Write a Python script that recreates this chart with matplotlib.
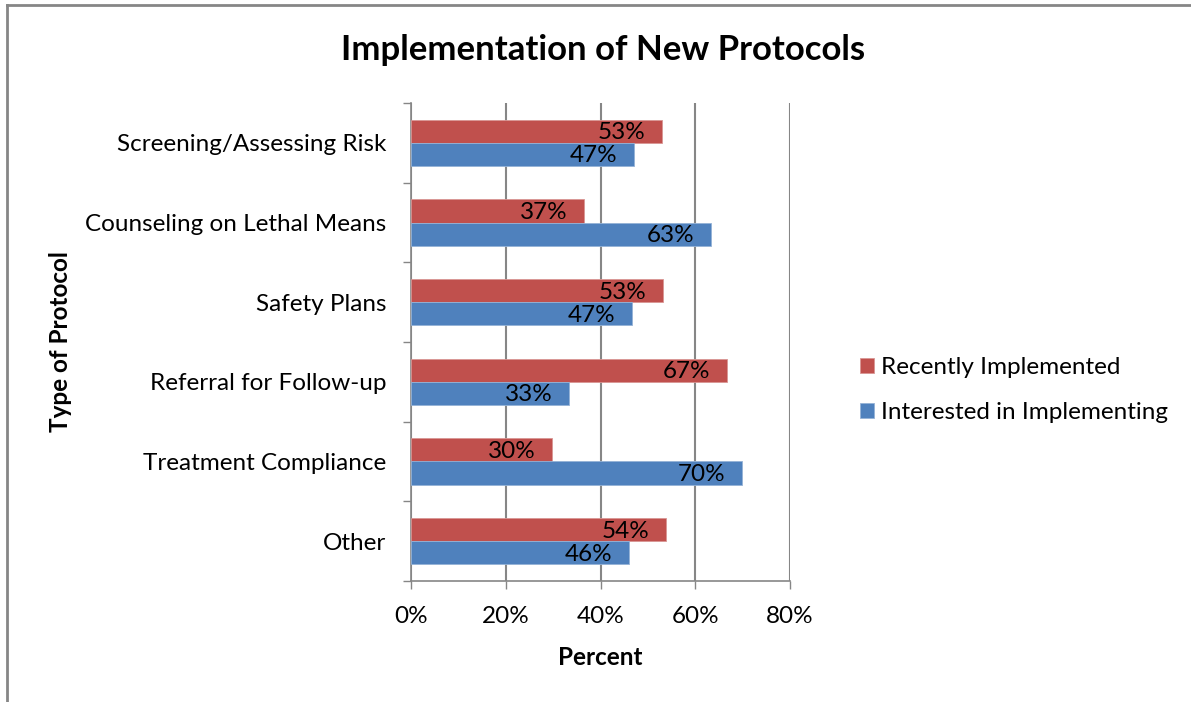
import numpy as np
import matplotlib
matplotlib.use("Agg")
import matplotlib.pyplot as plt
from matplotlib.lines import Line2D
from matplotlib.ticker import FuncFormatter

categories = ["Screening/Assessing Risk", "Counseling on Lethal Means", "Safety Plans",
              "Referral for Follow-up", "Treatment Compliance", "Other"]
recently = [52.9, 36.6, 53.2, 66.7, 29.8, 53.8]
interested = [47.1, 63.3, 46.7, 33.4, 69.9, 46.0]

RED = "#C0504D"
BLUE = "#4F81BD"
GRID = "#868686"

plt.rcParams["font.family"] = ["Lato", "DejaVu Sans"]

W, H = 1191, 702
fig = plt.figure(figsize=(W / 100, H / 100), dpi=100)
ax = fig.add_axes([411 / W, 1 - 581 / H, (790 - 411) / W, (581 - 103) / H])

n = len(categories)
y = np.arange(n)
h = 0.29
ax.barh(y - h / 2, recently, h, color=RED, edgecolor="#D99694", linewidth=0.6,
        label="Recently Implemented", zorder=3)
ax.barh(y + h / 2, interested, h, color=BLUE, edgecolor="#95B3D7", linewidth=0.6,
        label="Interested in Implementing", zorder=3)

for yi, v in zip(y - h / 2, recently):
    ax.annotate(f"{v:.0f}%", (v, yi), xytext=(-12, -1), textcoords="offset points",
                ha="right", va="center", fontsize=17.5, zorder=4)
for yi, v in zip(y + h / 2, interested):
    ax.annotate(f"{v:.0f}%", (v, yi), xytext=(-12, -1), textcoords="offset points",
                ha="right", va="center", fontsize=17.5, zorder=4)

ax.set_xlim(0, 80)
ax.set_ylim(n - 0.5, -0.5)
ax.set_xticks([0, 20, 40, 60, 80])
ax.xaxis.set_major_formatter(FuncFormatter(lambda v, p: f"{v:.0f}%"))
ax.set_yticks(y)
ax.set_yticklabels(categories)
ax.set_yticks(np.arange(n + 1) - 0.5, minor=True)
ax.tick_params(axis="y", which="major", length=0, pad=18, labelsize=17.5)
ax.tick_params(axis="y", which="minor", length=6, color=GRID, width=1)
ax.tick_params(axis="x", length=6, color=GRID, width=1, pad=12, labelsize=17.5)

ax.grid(axis="x", color=GRID, linewidth=1.5, zorder=0)
for s in ["top", "right"]:
    ax.spines[s].set_visible(False)
for s in ["left", "bottom"]:
    ax.spines[s].set_color(GRID)
    ax.spines[s].set_linewidth(1.2)

ax.set_xlabel("Percent", fontsize=17.5, fontweight="bold", labelpad=14)
ax.set_ylabel("Type of Protocol", fontsize=17.5, fontweight="bold", labelpad=0)
ax.yaxis.set_label_coords(-(411 - 72) / (790 - 411), 0.5)

fig.text(603 / W, 1 - 50 / H, "Implementation of New Protocols", ha="center",
         va="center", fontsize=25, fontweight="bold")

handles, labels = ax.get_legend_handles_labels()
fig.legend(handles, labels, loc="center left", bbox_to_anchor=(838 / W, 1 - 390 / H),
           frameon=False, fontsize=17.5, handlelength=0.6, handleheight=0.6,
           handletextpad=0.25, labelspacing=1.0)

# chart frame (cut off at right and bottom)
fig.add_artist(Line2D([7 / W, 1], [1 - 5 / H, 1 - 5 / H], color=GRID, lw=2))
fig.add_artist(Line2D([7 / W, 7 / W], [0, 1 - 5 / H], color=GRID, lw=2))

fig.savefig("out.png", dpi=100)
